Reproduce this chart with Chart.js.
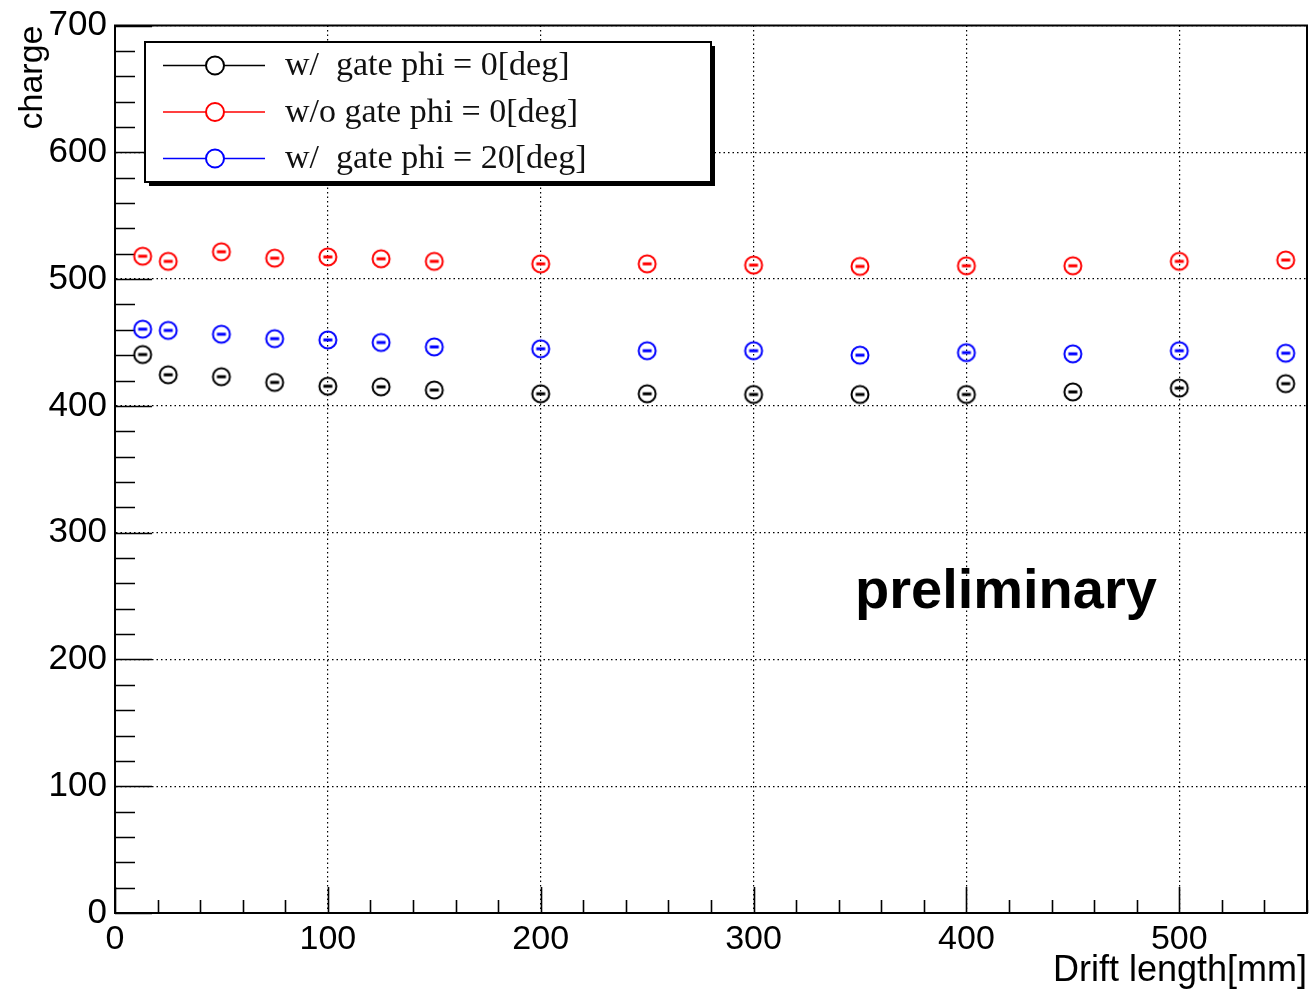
<!DOCTYPE html>
<html>
<head>
<meta charset="utf-8">
<title>Charge vs drift length</title>
<script src="https://cdn.jsdelivr.net/npm/chart.js@4.4.1/dist/chart.umd.min.js"></script>
<style>
  html, body { margin: 0; padding: 0; background: #fff; }
  #wrap { width: 1312px; height: 996px; }
</style>
</head>
<body>
<div id="wrap"><canvas id="chargeChart" width="1312" height="996"></canvas></div>
<script>
// Drift length [mm] and mean charge for each gate setting
const driftLength = [13, 25, 50, 75, 100, 125, 150, 200, 250, 300, 350, 400, 450, 500, 550];
const chargeGate0 = [440.5, 424.5, 423, 418.5, 415.5, 415, 412.5, 409.5, 409.5, 409, 409, 409, 411, 414, 417.5];
const chargeNoGate0 = [518, 514, 521.5, 516.5, 517.5, 516, 514, 512, 512, 511, 510, 510.5, 510.5, 514, 515];
const chargeGate20 = [460.5, 459.5, 456.5, 453, 452, 450, 446.5, 445, 443.5, 443.5, 440, 442, 441, 443.5, 441.5];

const seriesLabels = ['w/  gate phi = 0[deg]', 'w/o gate phi = 0[deg]', 'w/  gate phi = 20[deg]'];
const seriesValues = [chargeGate0, chargeNoGate0, chargeGate20];
const seriesColors = ['#000000', '#ff0000', '#0000ff'];

const xTicks = [0, 100, 200, 300, 400, 500];
const minorStep = 20;

// open circle marker with the small error dash inside
function markerImage(color) {
  const c = document.createElement('canvas');
  c.width = 24;
  c.height = 24;
  const g = c.getContext('2d');
  g.strokeStyle = color;
  g.lineWidth = 2;
  g.beginPath();
  g.arc(12, 12, 8.5, 0, Math.PI * 2);
  g.stroke();
  g.lineWidth = 3;
  g.beginPath();
  g.moveTo(7.5, 12);
  g.lineTo(16.5, 12);
  g.stroke();
  return c;
}

// frame plus inward major/minor ticks
const frameTicks = {
  id: 'frameTicks',
  beforeDatasetsDraw(chart) {
    const { ctx, chartArea: a, scales: { x, y } } = chart;
    ctx.save();
    ctx.strokeStyle = '#000';
    ctx.lineWidth = 2;
    ctx.strokeRect(a.left, a.top, a.right - a.left, a.bottom - a.top);
    ctx.lineWidth = 1.6;
    ctx.beginPath();
    for (let v = x.min; v <= x.max; v += minorStep) {
      const px = Math.round(x.getPixelForValue(v)) + 0.5;
      const len = v % 100 === 0 ? 26 : 13;
      ctx.moveTo(px, a.bottom);
      ctx.lineTo(px, a.bottom - len);
    }
    for (let v = y.min; v <= y.max; v += minorStep) {
      const py = Math.round(y.getPixelForValue(v)) + 0.5;
      const len = v % 100 === 0 ? 37 : 20;
      ctx.moveTo(a.left, py);
      ctx.lineTo(a.left + len, py);
    }
    ctx.stroke();
    ctx.restore();
  }
};

// boxed legend with drop shadow and the "preliminary" stamp
const legendBox = {
  id: 'legendBox',
  afterDraw(chart) {
    const { ctx } = chart;
    const box = { left: 145, top: 42, width: 566, height: 140 };
    ctx.save();
    ctx.fillStyle = '#000';
    ctx.fillRect(box.left + 4, box.top + 4, box.width, box.height);
    ctx.fillStyle = '#fff';
    ctx.fillRect(box.left, box.top, box.width, box.height);
    ctx.strokeStyle = '#000';
    ctx.lineWidth = 2;
    ctx.strokeRect(box.left, box.top, box.width, box.height);

    const rows = [65.5, 112, 158.5];
    chart.data.datasets.forEach((ds, i) => {
      const ry = rows[i];
      ctx.strokeStyle = ds.borderColor;
      ctx.lineWidth = 1.6;
      ctx.beginPath();
      ctx.moveTo(163, ry);
      ctx.lineTo(265, ry);
      ctx.stroke();
      ctx.fillStyle = '#fff';
      ctx.lineWidth = 2;
      ctx.beginPath();
      ctx.arc(215, ry, 9, 0, Math.PI * 2);
      ctx.fill();
      ctx.stroke();
      ctx.fillStyle = '#111';
      ctx.font = '34px "Liberation Serif"';
      ctx.textBaseline = 'middle';
      ctx.textAlign = 'left';
      ctx.fillText(ds.label, 285, ry + 1);
    });

    ctx.fillStyle = '#000';
    ctx.font = 'bold 56px "Liberation Sans"';
    ctx.textBaseline = 'alphabetic';
    ctx.fillText('preliminary', 855, 608);
    ctx.restore();
  }
};

new Chart(document.getElementById('chargeChart'), {
  type: 'scatter',
  data: {
    datasets: seriesValues.map((vals, i) => ({
      label: seriesLabels[i],
      data: driftLength.map((d, k) => ({ x: d, y: vals[k] })),
      borderColor: seriesColors[i],
      backgroundColor: seriesColors[i],
      pointStyle: markerImage(seriesColors[i]),
      showLine: false
    }))
  },
  options: {
    responsive: false,
    devicePixelRatio: 1,
    animation: false,
    layout: { padding: { top: 22, right: 5, left: 0, bottom: 0 } },
    plugins: {
      legend: { display: false },
      tooltip: { enabled: false }
    },
    scales: {
      x: {
        type: 'linear',
        min: 0,
        max: 560,
        afterBuildTicks: (scale) => {
          scale.ticks = xTicks.map(v => ({ value: v }));
        },
        afterFit: (scale) => { scale.height = 83; },
        grid: { color: '#000', lineWidth: 1.2, drawTicks: false },
        border: { display: true, color: '#000', width: 2, dash: [1.5, 3] },
        ticks: {
          autoSkip: false,
          maxRotation: 0,
          padding: 10,
          color: '#000',
          font: { family: '"Liberation Sans"', size: 34, lineHeight: 1 }
        },
        title: {
          display: true,
          text: 'Drift length[mm]',
          align: 'end',
          color: '#000',
          font: { family: '"Liberation Sans"', size: 36 },
          padding: { top: 0, bottom: 3 }
        }
      },
      y: {
        min: 0,
        max: 700,
        afterFit: (scale) => { scale.width = 115; },
        grid: { color: '#000', lineWidth: 1.2, drawTicks: false },
        border: { display: true, color: '#000', width: 2, dash: [1.5, 3] },
        ticks: {
          stepSize: 100,
          padding: 8,
          color: '#000',
          font: { family: '"Liberation Sans"', size: 35, lineHeight: 1 }
        },
        title: {
          display: true,
          text: 'charge',
          align: 'end',
          color: '#000',
          font: { family: '"Liberation Sans"', size: 34 },
          padding: { top: 12, bottom: 0 }
        }
      }
    }
  },
  plugins: [frameTicks, legendBox]
});
</script>
</body>
</html>
